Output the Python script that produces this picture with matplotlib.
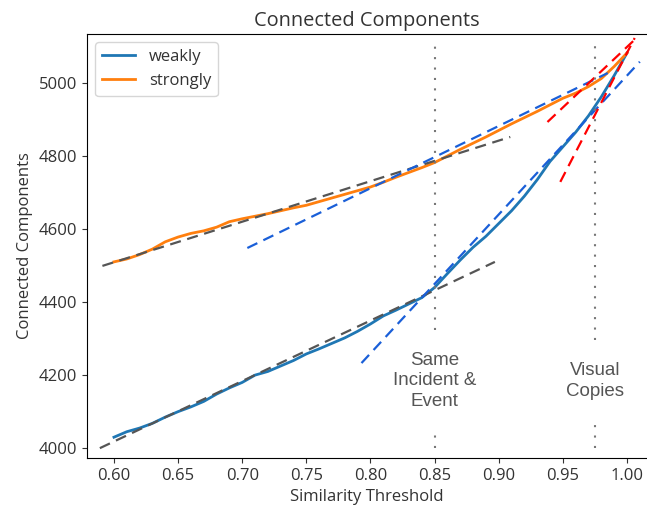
import numpy as np
import matplotlib.pyplot as plt

plt.rcParams['font.family'] = ['Open Sans', 'DejaVu Sans']
plt.rcParams['font.size'] = 12
plt.rcParams['text.color'] = '#333333'
plt.rcParams['axes.labelcolor'] = '#333333'
plt.rcParams['xtick.color'] = '#333333'
plt.rcParams['ytick.color'] = '#333333'

# similarity thresholds 0.60 .. 1.00
thresholds = [0.60, 0.61, 0.62, 0.63, 0.64, 0.65, 0.66, 0.67, 0.68, 0.69,
              0.70, 0.71, 0.72, 0.73, 0.74, 0.75, 0.76, 0.77, 0.78, 0.79,
              0.80, 0.81, 0.82, 0.83, 0.84, 0.85, 0.86, 0.87, 0.88, 0.89,
              0.90, 0.91, 0.92, 0.93, 0.94, 0.95, 0.96, 0.97, 0.98, 0.99, 1.00]

weakly = [4030, 4045, 4055, 4068, 4085, 4100, 4113, 4128, 4148, 4165,
          4180, 4200, 4210, 4225, 4240, 4258, 4272, 4287, 4302, 4320,
          4340, 4362, 4378, 4395, 4412, 4440, 4478, 4515, 4550, 4580,
          4615, 4650, 4690, 4735, 4785, 4825, 4865, 4910, 4962, 5020, 5082]

strongly = [4510, 4518, 4530, 4545, 4565, 4578, 4588, 4595, 4605, 4620,
            4628, 4635, 4642, 4650, 4658, 4665, 4675, 4685, 4695, 4705,
            4715, 4728, 4742, 4755, 4768, 4782, 4800, 4818, 4835, 4852,
            4870, 4888, 4905, 4922, 4940, 4958, 4972, 4990, 5012, 5045, 5082]

# trend lines: (x_start, x_end, y_start, y_end)
gray_fits = [(0.591, 0.909, 4499, 4852), (0.589, 0.897, 4000, 4510)]
blue_fits = [(0.704, 0.985, 4548, 5027), (0.793, 1.010, 4233, 5058)]
red_fits = [(0.938, 1.008, 4893, 5125), (0.948, 1.006, 4729, 5123)]

# threshold markers: x, upper segment, lower segment, label
markers = [(0.85, (4323, 5120), (4000, 4036), "Same\nIncident &\nEvent"),
           (0.975, (4296, 5120), (4000, 4082), "Visual\nCopies")]

fig = plt.figure(figsize=(6.47, 5.07), dpi=100)
ax = fig.add_axes([0.1345, 0.0966, 0.8655, 0.8364])

ax.plot(thresholds, weakly, color="C0", lw=2, label="weakly")
ax.plot(thresholds, strongly, color="C1", lw=2, label="strongly")

for x0, x1, y0, y1 in gray_fits:
    ax.plot([x0, x1], [y0, y1], ls=(0, (5, 3)), color="#555555", lw=1.6)
for x0, x1, y0, y1 in blue_fits:
    ax.plot([x0, x1], [y0, y1], ls=(0, (5, 3)), color="#1a5fd8", lw=1.6)
for x0, x1, y0, y1 in red_fits:
    ax.plot([x0, x1], [y0, y1], ls=(0, (5, 3)), color="red", lw=1.6)

for x, upper, lower, label in markers:
    ax.vlines(x, *upper, colors="#777777", linestyles=(0, (1, 4)), lw=1.5)
    ax.vlines(x, *lower, colors="#777777", linestyles=(0, (1, 4)), lw=1.5)
    ax.text(x, 4184, label, ha="center", va="center", fontsize=13.5,
            color="#555555", family="Liberation Sans", linespacing=1.25)

ax.set_xlim(0.579, 1.0156)
ax.set_ylim(3973, 5134)
ax.spines['right'].set_visible(False)
ax.set_xticks([0.60, 0.65, 0.70, 0.75, 0.80, 0.85, 0.90, 0.95, 1.00])
ax.set_yticks([4000, 4200, 4400, 4600, 4800, 5000])
ax.set_xlabel("Similarity Threshold")
ax.set_ylabel("Connected Components")
ax.set_title("Connected Components", fontsize=14.4)
ax.legend(loc="upper left")

fig.savefig("out.png", dpi=100)
